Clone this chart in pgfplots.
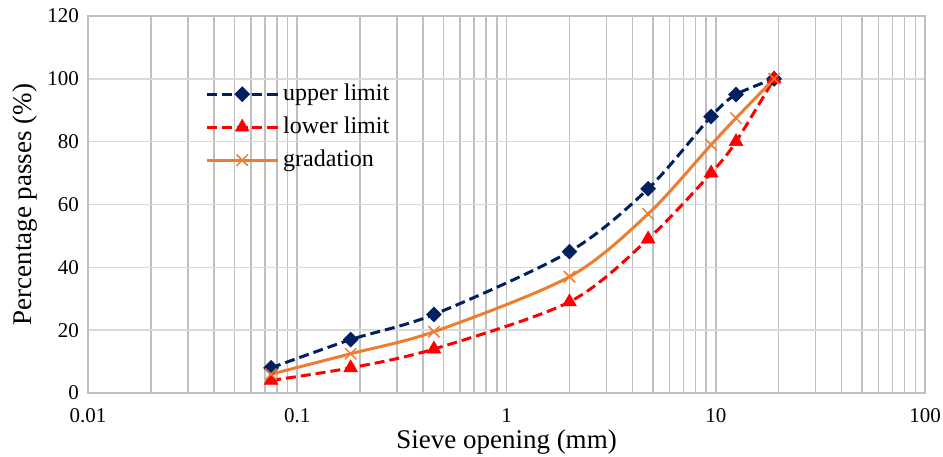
\documentclass[border=0pt]{standalone}
\usepackage{fontspec}
\setmainfont{Liberation Serif}
\usepackage{pgfplots}
\pgfplotsset{compat=1.18}
\definecolor{navy}{HTML}{002060}
\definecolor{exorange}{HTML}{ED7D31}
\definecolor{gridx}{HTML}{BFBFBF}
\definecolor{gridy}{HTML}{D9D9D9}
\begin{document}
\begin{tikzpicture}
\useasboundingbox (-88pt,-63pt) rectangle (855pt,393pt);
\begin{axis}[
  at={(0pt,0pt)}, anchor=south west,
  scale only axis, width=837pt, height=377pt,
  xmode=log, xmin=0.01, xmax=100, ymin=0, ymax=120,
  xtick={0.01,0.1,1,10,100}, xticklabels={\textrm{0.01},\textrm{0.1},\textrm{1},\textrm{10},\textrm{100}},
  ytick={0,20,40,60,80,100,120}, yticklabels={\textrm{0},\textrm{20},\textrm{40},\textrm{60},\textrm{80},\textrm{100},\textrm{120}},
  major tick length=0pt, minor tick length=0pt,
  xmajorgrids=true, xminorgrids=true, ymajorgrids=true,
  x grid style={color=gridx, line width=1.5pt},
  y grid style={color=gridy, line width=1.5pt},
  axis line style={color=gridx, line width=1.5pt},
  ticklabel style={font=\fontsize{21}{21}\selectfont},
  yticklabel style={anchor=east, inner sep=0pt, xshift=-9pt},
  xticklabel style={anchor=north, inner sep=0pt, yshift=-15pt},
  xlabel={Sieve opening (mm)},
  ylabel={Percentage passes (\%)},
  label style={font=\fontsize{27}{27}\selectfont},
  xlabel style={at={(axis description cs:0.5,-0.1300)}, anchor=center},
  ylabel style={at={(axis description cs:-0.0753,0.5)}, anchor=center},
  legend style={at={(axis description cs:0.1398,0.8223)}, anchor=north west,
    draw=none, fill=none, inner sep=0pt, row sep=11pt,
    font=\fontsize{24}{24}\selectfont,
    nodes={text height=17pt, text depth=5pt, inner sep=0pt},
    /tikz/every odd column/.append style={column sep=4pt}},
  legend cell align=left,
  legend image code/.code={
    \draw[mark repeat=2, mark phase=2, #1] plot coordinates {(0pt,0pt) (35.5pt,0pt) (71pt,0pt)};
  },
]
\addplot[navy, line width=3pt, dash pattern=on 10pt off 5pt, smooth,
  mark=square*, mark size=5.3pt, mark options={solid, rotate=45, fill=navy, line width=0.5pt}]
  coordinates {(0.075,8) (0.18,17) (0.45,25) (2,45) (4.75,65) (9.5,88) (12.5,95) (19,100)};
\addlegendentry{upper limit}
\addplot[red, line width=3pt, dash pattern=on 10pt off 5pt, smooth,
  mark=triangle*, mark size=8pt, mark options={solid, fill=red, line width=0.5pt}]
  coordinates {(0.075,4) (0.18,8) (0.45,14) (2,29) (4.75,49) (9.5,70) (12.5,80) (19,100)};
\addlegendentry{lower limit}
\addplot[exorange, line width=3pt, smooth,
  mark=x, mark size=8pt, mark options={solid, line width=1.5pt}]
  coordinates {(0.075,6) (0.18,12.5) (0.45,19.5) (2,37) (4.75,57) (9.5,79) (12.5,87.5) (19,100)};
\addlegendentry{gradation}
\end{axis}
\end{tikzpicture}
\end{document}
